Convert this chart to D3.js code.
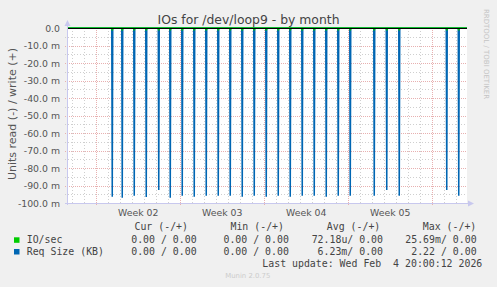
<!DOCTYPE html>
<html>
<head>
<meta charset="utf-8">
<script src="https://cdn.jsdelivr.net/npm/d3@7"></script>
<style>
  body { margin: 0; background: #f0f0f0; }
  svg { display: block; }
  text { font-family: "DejaVu Sans", sans-serif; }
  .mono { font-family: "DejaVu Sans Mono", monospace; }
</style>
</head>
<body>
<div id="chart"></div>
<script>
// spikes (read side, values in milli-units)
const spikeTimes = [
  "2026-01-06T09:00", "2026-01-07T05:00", "2026-01-08T05:00", "2026-01-09T05:00",
  "2026-01-10T06:00", "2026-01-11T05:00", "2026-01-12T05:00", "2026-01-13T05:00",
  "2026-01-14T05:00", "2026-01-15T05:00", "2026-01-16T05:00", "2026-01-17T05:00",
  "2026-01-18T05:00", "2026-01-19T05:00", "2026-01-20T05:00", "2026-01-21T05:00",
  "2026-01-22T05:00", "2026-01-23T05:00", "2026-01-24T05:00", "2026-01-25T05:00",
  "2026-01-26T05:00", "2026-01-28T05:00", "2026-01-29T06:00", "2026-01-30T07:00",
  "2026-02-03T06:00", "2026-02-04T06:00"
];
const reqSizeRead = [
  96.4, 97.0, 95.8, 96.6, 92.6, 97.0, 95.8, 96.4, 95.8, 95.8, 95.8, 96.4, 95.8,
  96.4, 95.8, 96.4, 95.8, 95.8, 96.4, 95.8, 95.8, 95.8, 92.6, 95.8, 92.6, 95.8
];
const ioSecRead = [
  1.4, 1.4, 1.4, 1.4, 1.4, 1.4, 1.4, 1.4, 1.4, 1.4, 1.4, 1.4, 1.4,
  1.4, 1.4, 1.4, 1.4, 1.4, 1.4, 1.4, 1.4, 1.4, 1.4, 1.4, 1.4, 1.4
];
const yTicks = [0, -10, -20, -30, -40, -50, -60, -70, -80, -90, -100];

const legendCols = ["Cur (-/+)", "Min (-/+)", "Avg (-/+)", "Max (-/+)"];
const seriesNames = ["IO/sec", "Req Size (KB)"];
const seriesColors = ["#00cc00", "#0066b3"];
const curVals = ["0.00 / 0.00", "0.00 / 0.00"];
const minVals = ["0.00 / 0.00", "0.00 / 0.00"];
const avgVals = ["72.18u/ 0.00", "6.23m/ 0.00"];
const maxVals = ["25.69m/ 0.00", "2.22 / 0.00"];

const width = 497, height = 287;
const pLeft = 67, pRight = 467, pTop = 28, pBottom = 203;

// month view: 400 px, 2h per px
const end = new Date(Date.UTC(2026, 1, 4, 22, 30));
const start = new Date(end.getTime() - 800 * 3600e3);

const x = d3.scaleUtc().domain([start, end]).range([pLeft, pRight]);
const y = d3.scaleLinear().domain([-100, 0]).range([pBottom, pTop]);

const svg = d3.select('#chart').append('svg')
  .attr('width', width)
  .attr('height', height);

svg.append('rect').attr('width', width).attr('height', height).attr('fill', '#f0f0f0');
svg.append('rect')
  .attr('x', pLeft).attr('y', pTop)
  .attr('width', pRight - pLeft).attr('height', pBottom - pTop)
  .attr('fill', '#ffffff');

// grid
const minorCol = '#cfcfcf', majorCol = '#e8b0b0';
const grid = svg.append('g').attr('shape-rendering', 'crispEdges');
const days = d3.utcDay.range(start, end);
const mondays = d3.utcMonday.range(start, end);
grid.selectAll('.vmin').data(days.filter(d => d.getUTCDay() !== 1)).enter()
  .append('line')
  .attr('x1', d => Math.round(x(d)) + 0.5).attr('x2', d => Math.round(x(d)) + 0.5)
  .attr('y1', pTop).attr('y2', pBottom + 2)
  .attr('stroke', minorCol).attr('stroke-dasharray', '1,2');
d3.range(-95, 0, 10).forEach(v => {
  grid.append('line')
    .attr('x1', pLeft - 2).attr('x2', pRight)
    .attr('y1', Math.round(y(v)) + 0.5).attr('y2', Math.round(y(v)) + 0.5)
    .attr('stroke', minorCol).attr('stroke-dasharray', '1,2');
});
grid.selectAll('.vmaj').data(mondays).enter()
  .append('line')
  .attr('x1', d => Math.round(x(d)) + 0.5).attr('x2', d => Math.round(x(d)) + 0.5)
  .attr('y1', pTop).attr('y2', pBottom + 2)
  .attr('stroke', majorCol).attr('stroke-dasharray', '1,1');
yTicks.filter(v => v !== 0).forEach(v => {
  grid.append('line')
    .attr('x1', pLeft - 2).attr('x2', pRight)
    .attr('y1', Math.round(y(v)) + 0.5).attr('y2', Math.round(y(v)) + 0.5)
    .attr('stroke', majorCol).attr('stroke-dasharray', '1,1');
});

// series
const hour = 3600e3;
const line = d3.line().x(d => x(d.t)).y(d => y(d.v));
const toPoints = (vals) => {
  const pts = [{ t: start, v: 0 }];
  spikeTimes.forEach((s, i) => {
    const t = new Date(s + ':00Z');
    pts.push({ t: new Date(t - hour), v: 0 });
    pts.push({ t: t, v: -vals[i] });
    pts.push({ t: new Date(+t + hour), v: 0 });
  });
  pts.push({ t: end, v: 0 });
  return pts;
};
svg.append('path')
  .attr('d', line(toPoints(reqSizeRead)))
  .attr('fill', 'none').attr('stroke', seriesColors[1]).attr('stroke-width', 1.5);
svg.append('path')
  .attr('d', line(toPoints(ioSecRead)))
  .attr('fill', 'none').attr('stroke', seriesColors[0]).attr('stroke-width', 1.5);

// zero line
svg.append('line')
  .attr('x1', pLeft).attr('x2', pRight)
  .attr('y1', pTop + 0.5).attr('y2', pTop + 0.5)
  .attr('stroke', '#000').attr('shape-rendering', 'crispEdges');

// axis lines with arrows
const axisCol = '#c8c8ee';
svg.append('line').attr('x1', pLeft + 0.5).attr('x2', pLeft + 0.5)
  .attr('y1', pBottom + 2).attr('y2', 22)
  .attr('stroke', axisCol).attr('shape-rendering', 'crispEdges');
svg.append('line').attr('x1', pLeft - 2).attr('x2', 471)
  .attr('y1', pBottom + 0.5).attr('y2', pBottom + 0.5)
  .attr('stroke', axisCol).attr('shape-rendering', 'crispEdges');
svg.append('path').attr('d', 'M64.5,26 L67.5,20 L70.5,26 Z').attr('fill', axisCol);
svg.append('path').attr('d', 'M468,200.5 L474,203.5 L468,206.5 Z').attr('fill', axisCol);

// y axis labels
const yAxis = d3.axisLeft(y)
  .tickValues(yTicks)
  .tickSize(0)
  .tickPadding(7)
  .tickFormat(d => d === 0 ? '0.0' : d.toFixed(1) + ' m');
const gy = svg.append('g').attr('transform', `translate(${pLeft},0)`).call(yAxis);
gy.select('.domain').remove();
gy.selectAll('text')
  .attr('fill', '#555')
  .style('font-size', '9.33px')
  .style('font-family', '"DejaVu Sans", sans-serif');

// x axis labels (centered on weeks)
const weekCenters = d3.utcMonday.range(d3.utcMonday.offset(start, -1), end)
  .map(d => d3.utcHour.offset(d, 84))
  .filter(d => d > start && d < end);
const xAxis = d3.axisBottom(x)
  .tickValues(weekCenters)
  .tickSize(0)
  .tickFormat(d => 'Week ' + d3.utcFormat('%V')(d));
const gx = svg.append('g').attr('transform', `translate(0,${pBottom})`).call(xAxis);
gx.select('.domain').remove();
gx.selectAll('text')
  .attr('y', 12.7).attr('dy', 0)
  .attr('fill', '#555')
  .style('font-size', '9.33px')
  .style('font-family', '"DejaVu Sans", sans-serif');

// title and y label
svg.append('text')
  .attr('x', 248.5).attr('y', 23.7)
  .attr('text-anchor', 'middle')
  .attr('fill', '#444')
  .style('font-size', '12.4px')
  .text('IOs for /dev/loop9 - by month');
svg.append('text')
  .attr('transform', 'translate(15.5,114) rotate(-90)')
  .attr('text-anchor', 'middle')
  .attr('fill', '#555')
  .style('font-size', '11px')
  .text('Units read (-) / write (+)');
svg.append('text')
  .attr('transform', 'translate(483.5,54) rotate(90)')
  .attr('text-anchor', 'middle')
  .attr('fill', '#c4c4c4')
  .style('font-size', '7px')
  .text('RRDTOOL / TOBI OETIKER');

// legend
const fs = '9.9px';
const headEnds = [188, 284, 380.3, 476.3];
const valEnds = [196.6, 288.9, 383, 476.6];
const leg = svg.append('g').attr('class', 'mono').attr('fill', '#444').style('font-size', fs);
legendCols.forEach((c, i) => {
  leg.append('text').attr('class', 'mono')
    .attr('x', headEnds[i]).attr('y', 230).attr('text-anchor', 'end').text(c);
});
const rowsY = [243.3, 255];
seriesNames.forEach((name, i) => {
  svg.append('rect')
    .attr('x', 14).attr('y', rowsY[i] - 6)
    .attr('width', 5.5).attr('height', 5.5)
    .attr('fill', seriesColors[i]);
  leg.append('text').attr('class', 'mono').attr('x', 26.7).attr('y', rowsY[i]).text(name);
  [curVals, minVals, avgVals, maxVals].forEach((vals, j) => {
    leg.append('text').attr('class', 'mono')
      .attr('x', valEnds[j]).attr('y', rowsY[i])
      .attr('text-anchor', 'end').style('white-space', 'pre')
      .text(vals[i]);
  });
});
leg.append('text').attr('class', 'mono')
  .attr('x', 482.3).attr('y', 266.7)
  .attr('text-anchor', 'end').style('white-space', 'pre')
  .text('Last update: Wed Feb  4 20:00:12 2026');
svg.append('text')
  .attr('x', 247.8).attr('y', 277.5)
  .attr('text-anchor', 'middle')
  .attr('fill', '#cccccc')
  .style('font-size', '6.9px')
  .text('Munin 2.0.75');
</script>
</body>
</html>
